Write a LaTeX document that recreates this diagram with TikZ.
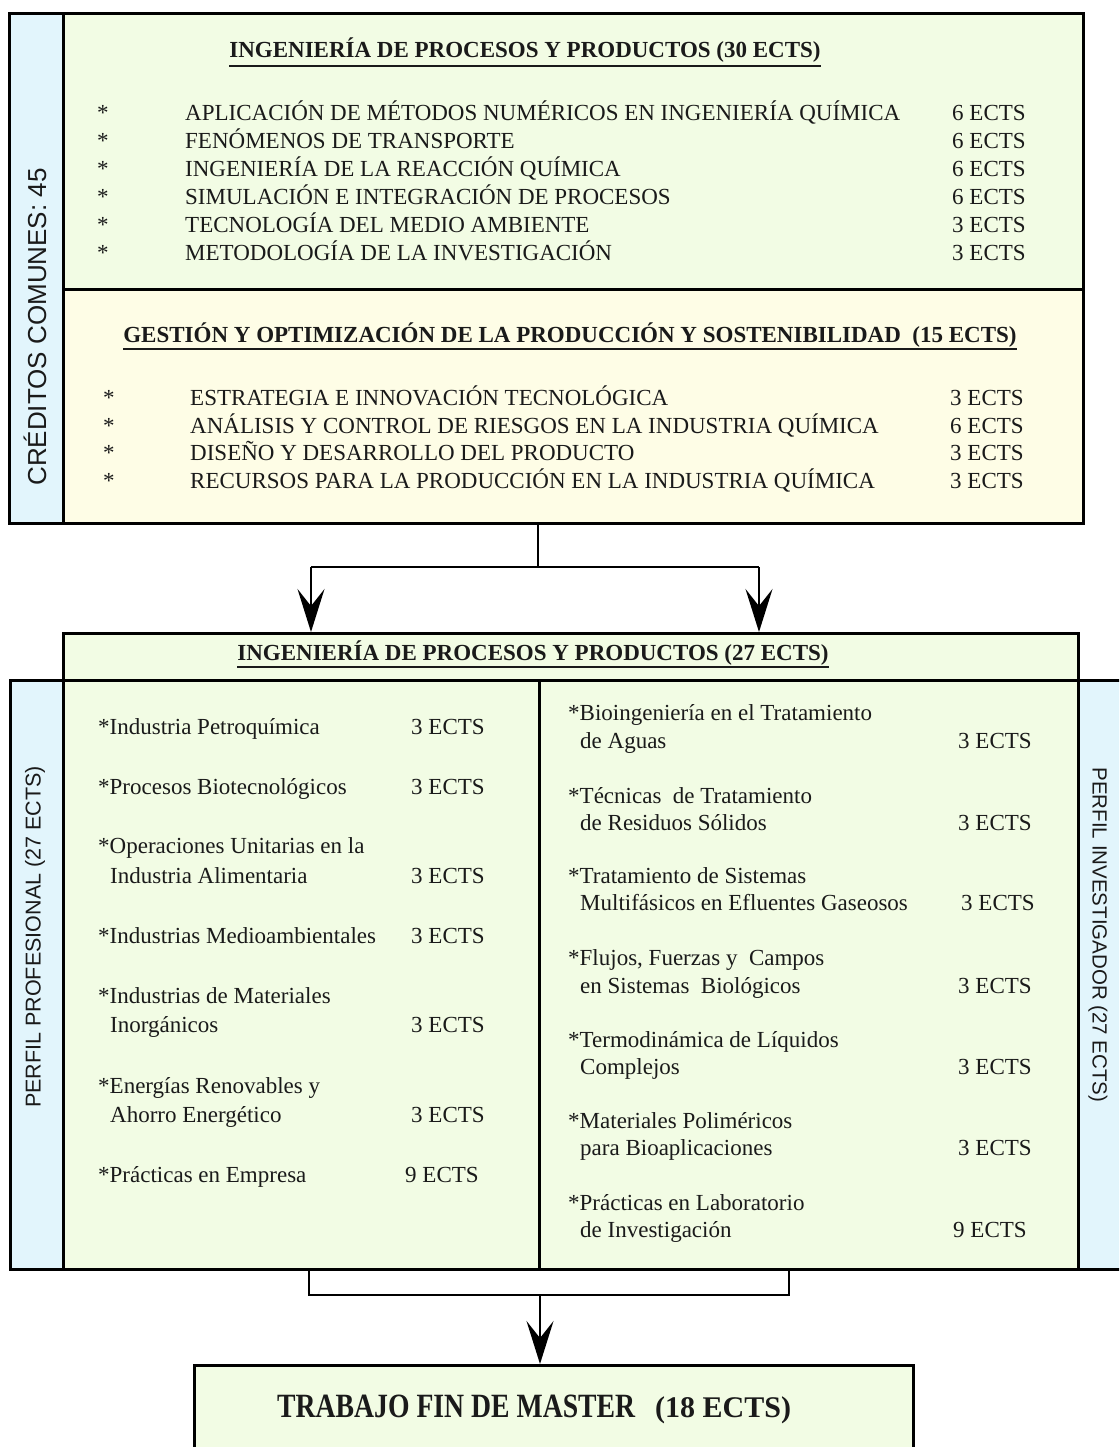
\documentclass[tikz,border=0pt]{standalone}
\usepackage{fontspec}
\usepackage{graphicx}
\setmainfont{Liberation Serif}
\setsansfont{Liberation Sans}
\usetikzlibrary{arrows.meta}
\definecolor{boxgreen}{HTML}{F2FCE4}
\definecolor{boxyellow}{HTML}{FEFDE6}
\definecolor{boxblue}{HTML}{E2F5FC}
\definecolor{ink}{HTML}{1A1A1A}
\begin{document}
\begin{tikzpicture}[x=1pt,y=-1pt,
  panel/.style={draw=black, line width=2.6pt, anchor=north west, inner sep=0pt},
  itm/.style={anchor=base west, inner sep=0pt, text=ink, font=\fontsize{23}{27}\selectfont},
  ttl/.style={anchor=base, inner sep=0pt, text=ink, font=\fontsize{23}{27}\selectfont\bfseries},
  side/.style={inner sep=0pt, text=ink, font=\sffamily\fontsize{21.5}{26}\selectfont},
  uline/.style={line width=1.8pt, draw=ink},
  conn/.style={line width=2pt, draw=black},
  arr/.style={conn, -{Stealth[length=43pt,width=27pt,inset=17pt]}},
]
\useasboundingbox (0,0) rectangle (1119,1447);
\clip (0,0) rectangle (1119,1447);
\fill[white] (0,0) rectangle (1119,1447);

% ---------- top block ----------
\node[panel, fill=boxblue, minimum width=54pt, minimum height=510pt] (cstrip) at (8,12) {};
\node[panel, fill=boxgreen, minimum width=1020pt, minimum height=276pt] (green) at (62,12) {};
\node[panel, fill=boxyellow, minimum width=1020pt, minimum height=234pt] (yellow) at (62,288) {};

\node[side, rotate=90, font=\sffamily\fontsize{26}{30}\selectfont] (clbl) at (35,327) {CRÉDITOS COMUNES: 45};

\node[ttl] (t1) at (525,58) {INGENIERÍA DE PROCESOS Y PRODUCTOS (30 ECTS)};
\draw[uline] ([yshift=-8pt]t1.base west) -- ([yshift=-8pt]t1.base east);

\foreach \yy/\tt/\ee [count=\i] in {
  121/APLICACIÓN DE MÉTODOS NUMÉRICOS EN INGENIERÍA QUÍMICA/6,
  149/FENÓMENOS DE TRANSPORTE/6,
  177/INGENIERÍA DE LA REACCIÓN QUÍMICA/6,
  205/SIMULACIÓN E INTEGRACIÓN DE PROCESOS/6,
  233/TECNOLOGÍA DEL MEDIO AMBIENTE/3,
  261/METODOLOGÍA DE LA INVESTIGACIÓN/3} {
  \node[itm] (ps\i) at (97,\yy) {*};
  \node[itm] (pt\i) at (185,\yy) {\tt};
  \node[itm] (pe\i) at (952,\yy) {\ee\ ECTS};
}

\node[ttl] (t2) at (570,342) {GESTIÓN Y OPTIMIZACIÓN DE LA PRODUCCIÓN Y SOSTENIBILIDAD \ (15 ECTS)};
\draw[uline] ([yshift=-7pt]t2.base west) -- ([yshift=-7pt]t2.base east);

\foreach \yy/\tt/\ee [count=\i] in {
  405/ESTRATEGIA E INNOVACIÓN TECNOLÓGICA/3,
  433/ANÁLISIS Y CONTROL DE RIESGOS EN LA INDUSTRIA QUÍMICA/6,
  460/DISEÑO Y DESARROLLO DEL PRODUCTO/3,
  488/RECURSOS PARA LA PRODUCCIÓN EN LA INDUSTRIA QUÍMICA/3} {
  \node[itm] (gs\i) at (103,\yy) {*};
  \node[itm] (gt\i) at (190,\yy) {\tt};
  \node[itm] (ge\i) at (950,\yy) {\ee\ ECTS};
}

% ---------- connectors top -> middle ----------
\coordinate (split) at (538,567);
\coordinate (jl) at (311,567);
\coordinate (jr) at (759,567);

% ---------- middle block ----------
\node[panel, fill=boxgreen, minimum width=1015pt, minimum height=47pt] (header) at (62,632) {};
\node[panel, fill=boxblue, minimum width=53pt, minimum height=589pt] (lstrip) at (9,679) {};
\node[panel, fill=boxgreen, minimum width=476pt, minimum height=589pt] (leftcol) at (62,679) {};
\node[panel, fill=boxgreen, minimum width=539pt, minimum height=589pt] (rightcol) at (538,679) {};
\node[panel, fill=boxblue, minimum width=70pt, minimum height=589pt] (rstrip) at (1077,679) {};

\draw[conn] (yellow.south -| split) -- (split);
\draw[conn] (jl) -- (jr);
\draw[arr] (jl) -- (jl |- header.north);
\draw[arr] (jr) -- (jr |- header.north);

\node[ttl] (t3) at (533,660) {INGENIERÍA DE PROCESOS Y PRODUCTOS (27 ECTS)};
\draw[uline] ([yshift=-7pt]t3.base west) -- ([yshift=-7pt]t3.base east);

\node[side, rotate=90] (plbl) at (35,937) {PERFIL PROFESIONAL (27 ECTS)};
\node[side, rotate=-90, font=\sffamily\fontsize{20.5}{25}\selectfont] (rlbl) at (1098,935) {PERFIL INVESTIGADOR (27 ECTS)};

% left column
\node[itm] (l1) at (98,734) {*Industria Petroquímica};
\node[itm] (l1e) at (411,734) {3 ECTS};
\node[itm] (l2) at (98,794) {*Procesos Biotecnológicos};
\node[itm] (l2e) at (411,794) {3 ECTS};
\node[itm] (l3) at (98,853) {*Operaciones Unitarias en la};
\node[itm] (l3b) at (110,883) {Industria Alimentaria};
\node[itm] (l3e) at (411,883) {3 ECTS};
\node[itm] (l4) at (98,943) {*Industrias Medioambientales};
\node[itm] (l4e) at (411,943) {3 ECTS};
\node[itm] (l5) at (98,1003) {*Industrias de Materiales};
\node[itm] (l5b) at (110,1032) {Inorgánicos};
\node[itm] (l5e) at (411,1032) {3 ECTS};
\node[itm] (l6) at (98,1093) {*Energías Renovables y};
\node[itm] (l6b) at (110,1122) {Ahorro Energético};
\node[itm] (l6e) at (411,1122) {3 ECTS};
\node[itm] (l7) at (98,1182) {*Prácticas en Empresa};
\node[itm] (l7e) at (405,1182) {9 ECTS};

% right column
\node[itm] (r1) at (568,720) {*Bioingeniería en el Tratamiento};
\node[itm] (r1b) at (580,748) {de Aguas};
\node[itm] (r1e) at (958,748) {3 ECTS};
\node[itm] (r2) at (568,803) {*Técnicas \ de Tratamiento};
\node[itm] (r2b) at (580,830) {de Residuos Sólidos};
\node[itm] (r2e) at (958,830) {3 ECTS};
\node[itm] (r3) at (568,883) {*Tratamiento de Sistemas};
\node[itm] (r3b) at (580,910) {Multifásicos en Efluentes Gaseosos};
\node[itm] (r3e) at (961,910) {3 ECTS};
\node[itm] (r4) at (568,965) {*Flujos, Fuerzas y \ Campos};
\node[itm] (r4b) at (580,993) {en Sistemas \ Biológicos};
\node[itm] (r4e) at (958,993) {3 ECTS};
\node[itm] (r5) at (568,1047) {*Termodinámica de Líquidos};
\node[itm] (r5b) at (580,1074) {Complejos};
\node[itm] (r5e) at (958,1074) {3 ECTS};
\node[itm] (r6) at (568,1128) {*Materiales Poliméricos};
\node[itm] (r6b) at (580,1155) {para Bioaplicaciones};
\node[itm] (r6e) at (958,1155) {3 ECTS};
\node[itm] (r7) at (568,1210) {*Prácticas en Laboratorio};
\node[itm] (r7b) at (580,1237) {de Investigación};
\node[itm] (r7e) at (953,1237) {9 ECTS};

% ---------- bottom ----------
\node[panel, fill=boxgreen, minimum width=719pt, minimum height=140pt] (tfm) at (193,1364) {};
\node[anchor=base west, inner sep=0pt, text=ink, font=\fontsize{34}{38}\selectfont\bfseries] (tfmA) at (277,1417) {\scalebox{0.815}[1]{TRABAJO FIN DE MASTER}};
\node[anchor=base west, inner sep=0pt, text=ink, font=\fontsize{30}{34}\selectfont\bfseries] (tfmB) at (655,1417) {(18 ECTS)};

\coordinate (bl) at (309,1295);
\coordinate (br) at (789,1295);
\coordinate (bm) at (540,1295);
\draw[conn] (bl |- leftcol.south) -- (bl) -- (br) -- (br |- rightcol.south);
\draw[arr] (bm) -- (bm |- tfm.north);
\end{tikzpicture}
\end{document}
